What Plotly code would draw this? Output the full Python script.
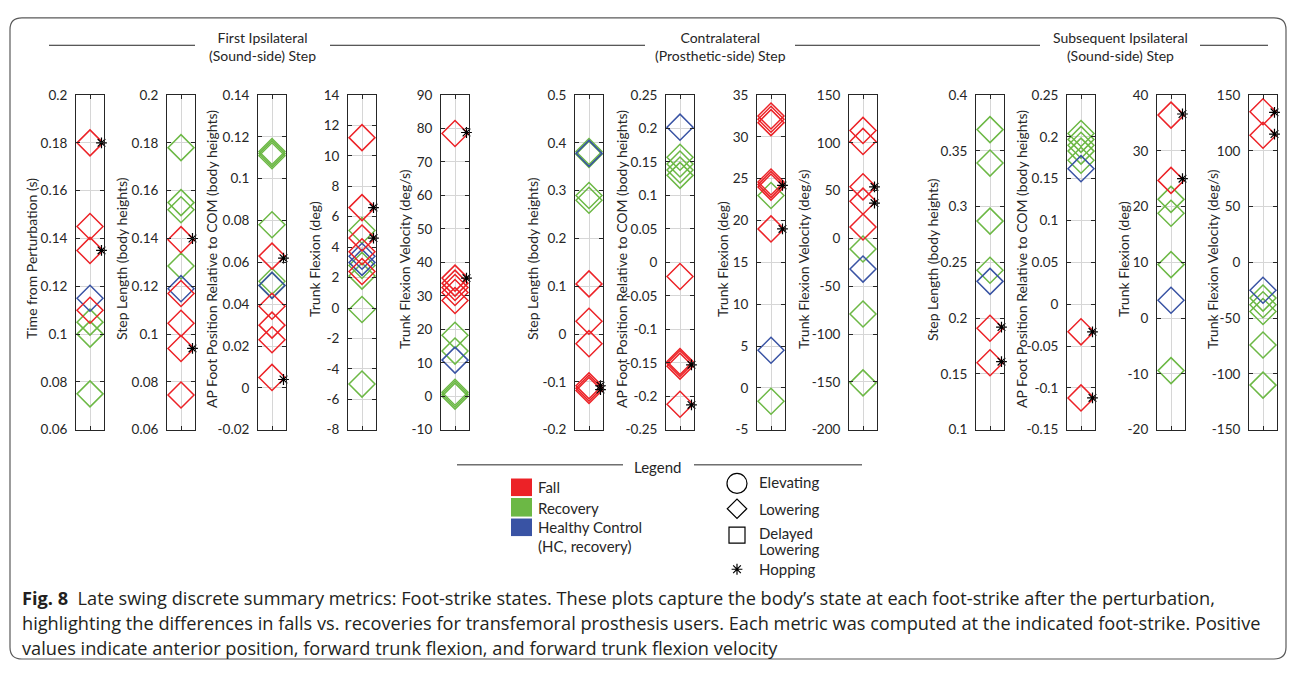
import numpy as np
import plotly.graph_objects as go

PAGE_W, PAGE_H = 1295, 676
PAGE_OFF = 8  # browser body margin around the figure
W, H = PAGE_W - 2 * PAGE_OFF, PAGE_H - 2 * PAGE_OFF

# ---------------- data ----------------
metric_titles = [
    "Time from Perturbation (s)",
    "Step Length (body heights)",
    "AP Foot Position Relative to COM (body heights)",
    "Trunk Flexion (deg)",
    "Trunk Flexion Velocity (deg/s)",
    "Step Length (body heights)",
    "AP Foot Position Relative to COM (body heights)",
    "Trunk Flexion (deg)",
    "Trunk Flexion Velocity (deg/s)",
    "Step Length (body heights)",
    "AP Foot Position Relative to COM (body heights)",
    "Trunk Flexion (deg)",
    "Trunk Flexion Velocity (deg/s)",
]
y_lo = [0.06, 0.06, -0.02, -8, -10, -0.2, -0.25, -5, -200, 0.1, -0.15, -20, -150]
y_hi = [0.2, 0.2, 0.14, 14, 90, 0.5, 0.25, 35, 150, 0.4, 0.25, 40, 150]
y_step = [0.02, 0.02, 0.02, 2, 10, 0.1, 0.05, 5, 50, 0.05, 0.05, 10, 50]

fall = [
    [0.180, 0.145, 0.135, 0.110],
    [0.1395, 0.117, 0.1045, 0.094, 0.0745],
    [0.063, 0.039, 0.030, 0.023, 0.005],
    [11.2, 6.6, 4.6, 3.7, 2.4],
    [78.5, 35.3, 33.8, 32.5, 31.0, 28.6],
    [0.105, 0.027, -0.02, -0.108, -0.113, -0.118],
    [-0.021, -0.148, -0.151, -0.155, -0.212],
    [32.5, 32.1, 31.7, 24.6, 24.3, 24.0, 19.0],
    [113, 101.5, 54, 39, 12],
    [0.191, 0.160],
    [-0.033, -0.112],
    [36.4, 24.7],
    [135, 114],
]
recovery = [
    [0.105, 0.100, 0.075],
    [0.178, 0.155, 0.152, 0.1285],
    [0.113, 0.112, 0.111, 0.078, 0.051, 0.049],
    [5.1, 2.8, 2.1, -0.1, -5.0],
    [18.2, 13.5, 1.2, 0.6, 0.0],
    [0.382, 0.376, 0.29, 0.28],
    [0.157, 0.147, 0.138, 0.130],
    [23.0, -1.6],
    [-11, -79, -151],
    [0.369, 0.339, 0.287, 0.243],
    [0.204, 0.197, 0.190, 0.183, 0.172],
    [21.3, 18.8, 9.6, -9.4],
    [-32, -38, -44, -74, -110],
]
healthy = [
    [0.115],
    [0.119],
    [0.049],
    [3.4, 3.0],
    [10.8],
    [0.378],
    [0.202],
    [4.5],
    [-32],
    [0.233],
    [0.162],
    [3.2],
    [-25],
]
hopping = [
    [0.180, 0.135],
    [0.140, 0.094],
    [0.062, 0.004],
    [6.6, 4.6],
    [78.8, 35.3],
    [-0.108, -0.116],
    [-0.153, -0.213],
    [24.2, 19.0],
    [54, 37],
    [0.192, 0.161],
    [-0.033, -0.112],
    [36.6, 25.0],
    [134.5, 115],
]

group_titles = [
    "First Ipsilateral<br>(Sound-side) Step",
    "Contralateral<br>(Prosthetic-side) Step",
    "Subsequent Ipsilateral<br>(Sound-side) Step",
]
outcome_labels = ["Fall", "Recovery", "Healthy Control", "(HC, recovery)"]
state_labels = ["Elevating", "Lowering", "Delayed", "Lowering", "Hopping"]
caption_lines = [
    "<b>Fig. 8</b>  Late swing discrete summary metrics: Foot-strike states. These plots capture the body\u2019s state at each foot-strike after the perturbation,",
    "highlighting the differences in falls vs. recoveries for transfemoral prosthesis users. Each metric was computed at the indicated foot-strike. Positive",
    "values indicate anterior position, forward trunk flexion, and forward trunk flexion velocity",
]

# ---------------- style / layout constants ----------------
COL_FALL = "#EC2227"
COL_REC = "#6CB845"
COL_HC = "#3953A4"
AX_COL = "#262626"
GRID_COL = "#D6D6D6"
FONT = "Lato"
CAP_FONT = "Open Sans"

X_STATE = 1.0
X_HOP = 1.82

panel_left = [76, 167, 258, 348, 441, 575, 666, 757, 849, 976, 1067, 1157, 1249]
PANEL_W = 28
PLOT_TOP, PLOT_BOT = 89, 432
title_gap = [44, 45, 46, 33, 36, 42, 44, 34, 45, 43, 45, 33, 36]


def px(x):
    """page pixel x -> paper fraction"""
    return (x - PAGE_OFF) / W


def py(y):
    """page pixel y (from top) -> paper fraction"""
    return 1 - (y - PAGE_OFF) / H


fig = go.Figure()
layout = dict(
    width=W, height=H,
    margin=dict(l=0, r=0, t=0, b=0),
    paper_bgcolor="white", plot_bgcolor="white",
    showlegend=False,
    font=dict(family=FONT, color=AX_COL),
)
annotations = []
shapes = []

for i in range(13):
    n = i + 1
    xa = "x" if n == 1 else f"x{n}"
    ya = "y" if n == 1 else f"y{n}"
    xkey = "xaxis" if n == 1 else f"xaxis{n}"
    ykey = "yaxis" if n == 1 else f"yaxis{n}"
    tv = np.round(np.arange(y_lo[i], y_hi[i] + y_step[i] / 2, y_step[i]), 6) + 0.0
    tt = [f"{(float(v) + 0.0):g}" for v in tv]
    tt = ["0" if t in ("-0", "0") else t for t in tt]
    layout[xkey] = dict(
        domain=[px(panel_left[i]), px(panel_left[i] + PANEL_W)],
        range=[0, 2], anchor=ya, tickvals=[1], showticklabels=False,
        ticks="inside", ticklen=4, tickcolor=AX_COL, showline=True, linecolor=AX_COL,
        linewidth=1, mirror="ticks", showgrid=True, gridcolor=GRID_COL, gridwidth=1,
        zeroline=False, fixedrange=True,
    )
    layout[ykey] = dict(
        domain=[py(PLOT_BOT), py(PLOT_TOP)],
        range=[y_lo[i], y_hi[i]], anchor=xa, tickvals=[float(v) for v in tv], ticktext=tt,
        ticks="inside", ticklen=4, tickcolor=AX_COL, showline=True, linecolor=AX_COL,
        linewidth=1, mirror="ticks", showgrid=True, gridcolor=GRID_COL, gridwidth=1,
        zeroline=False, fixedrange=True, ticklabelstandoff=5,
        tickfont=dict(family=FONT, size=13.5, color=AX_COL),
    )
    for vals, col in ((recovery[i], COL_REC), (healthy[i], COL_HC), (fall[i], COL_FALL)):
        fig.add_trace(go.Scatter(
            x=[X_STATE] * len(vals), y=vals, mode="markers", xaxis=xa, yaxis=ya,
            marker=dict(symbol="diamond-open", size=20, color=col, line=dict(color=col, width=1.5)),
            cliponaxis=False, hoverinfo="y",
        ))
    fig.add_trace(go.Scatter(
        x=[X_HOP] * len(hopping[i]), y=hopping[i], mode="markers", xaxis=xa, yaxis=ya,
        marker=dict(symbol="asterisk-open", size=9, color="black", line=dict(color="black", width=1.2)),
        cliponaxis=False, hoverinfo="y",
    ))
    annotations.append(dict(
        text=metric_titles[i], x=px(panel_left[i] - title_gap[i]), y=py(257),
        xref="paper", yref="paper", textangle=-90, showarrow=False,
        xanchor="center", yanchor="middle", font=dict(family=FONT, size=14, color=AX_COL),
    ))

# group titles with rules
group_cx = [262, 720, 1120]
for txt, cx in zip(group_titles, group_cx):
    annotations.append(dict(text=txt, x=px(cx), y=py(39.5), xref="paper", yref="paper", showarrow=False,
                            xanchor="center", yanchor="middle",
                            font=dict(family=FONT, size=14, color=AX_COL)))
for x0, x1 in [(49, 195), (330, 645), (795, 1040), (1200, 1268)]:
    shapes.append(dict(type="line", xref="paper", yref="paper", x0=px(x0), x1=px(x1), y0=py(38), y1=py(38),
                       line=dict(color=AX_COL, width=1)))

# legend area (drawn on its own pixel-scaled axis)
LX0, LX1, LY0, LY1 = 440, 890, 450, 600
layout["xaxis14"] = dict(domain=[px(LX0), px(LX1)], range=[LX0, LX1], anchor="y14", visible=False, fixedrange=True)
layout["yaxis14"] = dict(domain=[py(LY1), py(LY0)], range=[LY1, LY0], anchor="x14", visible=False, fixedrange=True)

annotations.append(dict(text="Legend", x=px(657), y=py(470), xref="paper", yref="paper", showarrow=False,
                        xanchor="center", yanchor="middle", font=dict(family=FONT, size=15, color=AX_COL)))
for x0, x1 in [(457, 623), (694, 862)]:
    shapes.append(dict(type="line", xref="paper", yref="paper", x0=px(x0), x1=px(x1), y0=py(468), y1=py(468),
                       line=dict(color=AX_COL, width=1)))
for col, (y0, y1) in zip([COL_FALL, COL_REC, COL_HC], [(482, 500), (502, 521), (523, 541)]):
    shapes.append(dict(type="rect", xref="paper", yref="paper", x0=px(511), x1=px(532), y0=py(y1), y1=py(y0),
                       fillcolor=col, line=dict(width=0)))
for txt, yy in zip(outcome_labels, [491, 512, 532, 551]):
    annotations.append(dict(text=txt, x=px(536), y=py(yy), xref="paper", yref="paper", showarrow=False,
                            xanchor="left", yanchor="middle", font=dict(family=FONT, size=15, color=AX_COL)))
leg_syms = ["circle-open", "diamond-open", "square-open", "asterisk-open"]
leg_sizes = [20, 15, 16, 9]
leg_sy = [487, 513, 540, 575]
for sym, sz, yy in zip(leg_syms, leg_sizes, leg_sy):
    fig.add_trace(go.Scatter(x=[737], y=[yy], xaxis="x14", yaxis="y14", mode="markers", cliponaxis=False,
                             marker=dict(symbol=sym, size=sz, color="black", line=dict(color="black", width=1.2)),
                             hoverinfo="skip"))
for txt, yy in zip(state_labels, [486, 513, 538, 554, 575]):
    annotations.append(dict(text=txt, x=px(757), y=py(yy), xref="paper", yref="paper", showarrow=False,
                            xanchor="left", yanchor="middle", font=dict(family=FONT, size=15, color=AX_COL)))

# caption
for txt, yy in zip(caption_lines, [604, 630, 656]):
    annotations.append(dict(text=txt, x=px(20), y=py(yy), xref="paper", yref="paper", showarrow=False,
                            xanchor="left", yanchor="middle", font=dict(family=CAP_FONT, size=18.2, color="#231F20")))

# rounded outer frame
fx0, fx1, fy0, fy1, r = 10, 1286, 10, 667, 12
path = (f"M {px(fx0 + r)},{py(fy0)} L {px(fx1 - r)},{py(fy0)} Q {px(fx1)},{py(fy0)} {px(fx1)},{py(fy0 + r)} "
        f"L {px(fx1)},{py(fy1 - r)} Q {px(fx1)},{py(fy1)} {px(fx1 - r)},{py(fy1)} "
        f"L {px(fx0 + r)},{py(fy1)} Q {px(fx0)},{py(fy1)} {px(fx0)},{py(fy1 - r)} "
        f"L {px(fx0)},{py(fy0 + r)} Q {px(fx0)},{py(fy0)} {px(fx0 + r)},{py(fy0)} Z")
shapes.append(dict(type="path", xref="paper", yref="paper", path=path, line=dict(color="#5A5A5A", width=1.2)))

layout["annotations"] = annotations
layout["shapes"] = shapes
fig.update_layout(**layout)
fig.write_html("out.html")
